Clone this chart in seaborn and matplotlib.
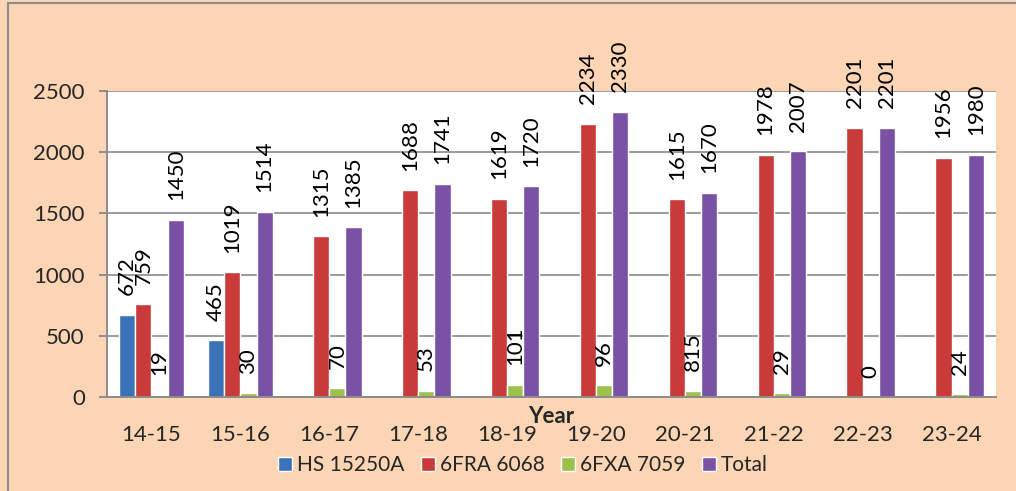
import numpy as np
import pandas as pd
import matplotlib
matplotlib.use("Agg")
import matplotlib.pyplot as plt
import seaborn as sns
from matplotlib.patches import Patch
from matplotlib.lines import Line2D

years = ["14-15", "15-16", "16-17", "17-18", "18-19", "19-20", "20-21", "21-22", "22-23", "23-24"]
series = ["HS 15250A", "6FRA 6068", "6FXA 7059", "Total"]

hs_15250a = [672, 465, 0, 0, 0, 0, 0, 0, 0, 0]
fra_6068 = [759, 1019, 1315, 1688, 1619, 2234, 1615, 1978, 2201, 1956]
fxa_7059 = [19, 30, 70, 53, 101, 96, 50, 29, 0, 24]
total = [1450, 1514, 1385, 1741, 1720, 2330, 1670, 2007, 2201, 1980]

# label text as printed on the chart (the 20-21 green label reads 815)
hs_labels = ["672", "465", "", "", "", "", "", "", "", ""]
fra_labels = [str(v) for v in fra_6068]
fxa_labels = ["19", "30", "70", "53", "101", "96", "815", "29", "0", "24"]
total_labels = [str(v) for v in total]

colors = ["#3A72B8", "#C93A3A", "#9CC24C", "#7952A5"]
bg = "#FCD5B5"

df = pd.DataFrame({
    "Year": years * 4,
    "Series": np.repeat(series, len(years)),
    "Value": hs_15250a + fra_6068 + fxa_7059 + total,
})

sns.set_style("white")
plt.rcParams["font.family"] = ["Lato", "DejaVu Sans"]

fig = plt.figure(figsize=(10.16, 4.91), dpi=100, facecolor=bg)
ax = fig.add_axes([0.1053, 0.1914, 0.875, 0.6233])
ax.set_facecolor("white")

sns.barplot(data=df, x="Year", y="Value", hue="Series", order=years, hue_order=series,
            palette=colors, width=0.73, ax=ax, legend=False, saturation=1)

for cont, labels in zip(ax.containers, [hs_labels, fra_labels, fxa_labels, total_labels]):
    for bar, txt in zip(cont, labels):
        if txt == "":
            continue
        ax.annotate(txt, (bar.get_x() + bar.get_width() / 2, bar.get_height()),
                    xytext=(0, 14), textcoords="offset points", rotation=90,
                    ha="center", va="bottom", fontsize=16, color="black")

ax.set_ylim(0, 2500)
ax.set_xlim(-0.5, len(years) - 0.5)
ax.set_yticks(range(0, 2501, 500))
ax.yaxis.grid(True, color="#9A9A9A", linewidth=1.4)
ax.set_axisbelow(True)

for s in ["top", "right"]:
    ax.spines[s].set_visible(False)
for s in ["left", "bottom"]:
    ax.spines[s].set_color("#8C8C8C")
    ax.spines[s].set_linewidth(1.4)

ax.set_xticks(np.arange(-0.5, len(years)), minor=True)
ax.tick_params(axis="x", which="major", length=0, pad=20, labelsize=16)
ax.tick_params(axis="x", which="minor", length=6, width=1.4, color="#8C8C8C")
ax.tick_params(axis="y", length=6, width=1.4, color="#8C8C8C", pad=10, labelsize=16, left=True)

ax.set_ylabel("")
ax.set_xlabel("Year", fontsize=16, fontweight="bold", labelpad=-28)

handles = [Patch(facecolor=c, label=s) for c, s in zip(colors, series)]
fig.legend(handles=handles, loc="center", bbox_to_anchor=(0.515, 0.052), ncol=4,
           frameon=False, fontsize=15, handlelength=0.65, handleheight=0.65,
           handletextpad=0.25, columnspacing=0.8)

# chart border (left and top visible)
fig.add_artist(Line2D([0.008, 0.008], [0, 0.994], transform=fig.transFigure, color="#8C8C8C", lw=1.5))
fig.add_artist(Line2D([0.008, 1], [0.994, 0.994], transform=fig.transFigure, color="#8C8C8C", lw=1.5))

fig.savefig("out.png", dpi=100, facecolor=bg)
